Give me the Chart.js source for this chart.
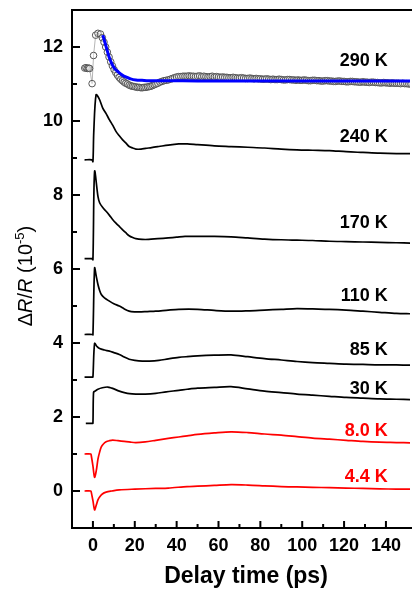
<!DOCTYPE html>
<html>
<head>
<meta charset="UTF-8">
<title>Delay time traces</title>
<script src="https://cdn.jsdelivr.net/npm/chart.js@4.4.1/dist/chart.umd.min.js"></script>
<style>
    body { margin: 0; background: #fff; }
    .box { width: 415px; height: 590px; position: relative; }
</style>
</head>
<body>
<div class="box"><canvas id="grafico"></canvas></div>
<script>
    // 290 K: measured points (open circles) and fit (blue)
    const t290 = [-3.9, -3.3, -2.7, -2.1, -1.6, -0.4, 0.3, 1.3, 2.4, 3.6,
        4.5, 5.3, 6.1, 6.9, 7.7, 8.5, 9.3, 10.1, 10.9, 11.7, 12.5, 13.3, 14.1, 14.9, 15.7, 16.5, 17.3, 18.1, 18.9, 19.7,
        20.5, 21.3, 22.1, 22.9, 23.7, 24.5, 25.3, 26.1, 26.9, 27.7, 28.5, 29.3, 30.1, 31, 32, 33, 34, 35, 36, 37,
        38, 39, 40, 41, 42, 43, 44, 45, 46, 47, 48, 49, 50, 51, 52, 53, 54, 55, 56, 57,
        58, 59, 60, 61, 62, 63, 64, 65, 66, 67, 68, 69, 70, 71, 72, 73, 74, 75, 76, 77,
        78, 79, 80, 81, 82, 83, 84, 85, 86, 87, 88, 89, 90, 91, 92, 93, 94, 95, 96, 97,
        98, 99, 100, 101, 102, 103, 104, 105, 106, 107, 108, 109, 110, 111, 112, 113, 114, 115, 116, 117,
        118, 119, 120, 121, 122, 123, 124, 125, 126, 127, 128, 129, 130, 131, 132, 133, 134, 135, 136, 137,
        138, 139, 140, 141, 142, 143, 144, 145, 146, 147, 148, 149, 150, 151, 152];
    const v290 = [11.43, 11.44, 11.42, 11.43, 11.42, 11.01, 11.77, 12.32, 12.37, 12.35,
        12.25, 12.13, 12.0, 11.86, 11.73, 11.6, 11.49, 11.39, 11.31, 11.24, 11.18, 11.13, 11.09, 11.05, 11.02, 11.0, 10.97, 10.95, 10.94, 10.93,
        10.92, 10.91, 10.91, 10.9, 10.9, 10.91, 10.91, 10.92, 10.93, 10.94, 10.96, 10.98, 11.0, 11.02, 11.05, 11.07, 11.09, 11.1, 11.11, 11.13,
        11.15, 11.17, 11.19, 11.2, 11.2, 11.21, 11.21, 11.21, 11.22, 11.21, 11.21, 11.2, 11.21, 11.22, 11.2, 11.21, 11.2, 11.19, 11.2, 11.21,
        11.19, 11.2, 11.19, 11.18, 11.19, 11.18, 11.18, 11.17, 11.17, 11.18, 11.17, 11.16, 11.16, 11.17, 11.16, 11.15, 11.15, 11.16, 11.15, 11.14,
        11.15, 11.14, 11.14, 11.13, 11.13, 11.14, 11.13, 11.12, 11.13, 11.12, 11.12, 11.13, 11.12, 11.11, 11.11, 11.12, 11.12, 11.11, 11.11, 11.1,
        11.11, 11.1, 11.1, 11.11, 11.1, 11.09, 11.09, 11.1, 11.1, 11.09, 11.09, 11.08, 11.08, 11.09, 11.09, 11.08, 11.08, 11.07, 11.07, 11.08,
        11.08, 11.07, 11.07, 11.06, 11.06, 11.07, 11.07, 11.06, 11.06, 11.05, 11.05, 11.06, 11.05, 11.05, 11.04, 11.05, 11.05, 11.04, 11.04, 11.03,
        11.03, 11.04, 11.03, 11.03, 11.02, 11.03, 11.02, 11.02, 11.02, 11.01, 11.02, 11.01, 11.01, 11.0, 11.0];
    const tFit = [4.7, 5.5, 6.3, 7.1, 7.9, 9, 10.2, 11.4, 12.6, 14, 15.7, 18, 20.5, 23.5, 26.7, 31, 36, 50, 80, 110, 152];
    const vFit = [12.32, 12.17, 12.01, 11.85, 11.7, 11.55, 11.43, 11.36, 11.3, 11.24, 11.19, 11.14, 11.11, 11.1, 11.09, 11.09, 11.09, 11.08, 11.08, 11.08, 11.08];

    const t240 = [-4, -0.5, 0, 0.4, 1.5, 3, 4.7, 6.3, 7.9, 9.5, 11, 12.6, 14.2, 15.8, 17.3, 19, 20.5, 23, 25.2, 28, 31.5, 36, 41, 45, 50, 58, 66, 74, 82, 90, 97.5, 105, 113, 121, 129, 137, 145, 152];
    const v240 = [8.95, 8.95, 8.9, 9.7, 10.71, 10.6, 10.35, 10.2, 10.03, 9.88, 9.72, 9.6, 9.49, 9.4, 9.31, 9.27, 9.24, 9.24, 9.26, 9.28, 9.31, 9.35, 9.38, 9.38, 9.36, 9.33, 9.31, 9.29, 9.27, 9.24, 9.22, 9.21, 9.2, 9.17, 9.15, 9.13, 9.12, 9.12];

    const t170 = [-4, -0.5, 0, 0.8, 2.4, 3.2, 4.7, 6.3, 7.9, 9.4, 11, 12.6, 14.2, 15.7, 17.3, 19, 20.5, 23.5, 26.7, 31, 36, 40, 44, 50, 58, 66, 74, 82, 90, 97.5, 105, 113, 121, 129, 137, 145, 152];
    const v170 = [6.28, 6.28, 6.25, 8.64, 7.96, 7.79, 7.66, 7.56, 7.45, 7.34, 7.24, 7.15, 7.06, 6.98, 6.9, 6.85, 6.82, 6.8, 6.8, 6.82, 6.84, 6.86, 6.88, 6.88, 6.88, 6.87, 6.84, 6.81, 6.79, 6.78, 6.77, 6.75, 6.74, 6.73, 6.72, 6.71, 6.7];

    const t110 = [-4, -0.3, 0, 0.8, 1.6, 2.4, 3.2, 4, 5.5, 7.9, 10, 12.6, 15, 17.3, 20, 22, 26, 30, 36, 41, 50, 58, 66, 74, 82, 90, 97.5, 105, 113, 121, 129, 137, 145, 152];
    const v110 = [4.23, 4.23, 4.22, 6.03, 5.8, 5.58, 5.42, 5.31, 5.22, 5.13, 5.06, 5.0, 4.92, 4.86, 4.84, 4.84, 4.85, 4.86, 4.89, 4.91, 4.91, 4.88, 4.86, 4.87, 4.89, 4.91, 4.93, 4.92, 4.91, 4.89, 4.86, 4.83, 4.8, 4.79];

    const t85 = [-4, -0.3, 0, 0.8, 2, 3.2, 5.5, 7.9, 10, 12.6, 15, 17.3, 20, 23.6, 27, 31.5, 36, 41, 45, 50, 58, 66, 74, 82, 90, 97.5, 105, 113, 121, 129, 137, 145, 152];
    const v85 = [3.08, 3.08, 3.08, 3.99, 3.9, 3.85, 3.81, 3.78, 3.74, 3.69, 3.62, 3.56, 3.53, 3.51, 3.51, 3.53, 3.57, 3.61, 3.63, 3.65, 3.67, 3.68, 3.63, 3.58, 3.54, 3.5, 3.47, 3.45, 3.43, 3.42, 3.41, 3.41, 3.4];

    const t30 = [-3.4, -0.3, 0, 0.3, 1, 2.4, 4.5, 7, 9, 12.6, 15, 17.5, 20.5, 25, 30, 35, 41, 45, 50, 58, 66, 74, 82, 90, 97.5, 105, 113, 121, 129, 137, 145, 152];
    const v30 = [1.83, 1.83, 1.83, 2.67, 2.7, 2.75, 2.79, 2.81, 2.78, 2.7, 2.66, 2.63, 2.62, 2.62, 2.64, 2.68, 2.72, 2.75, 2.78, 2.8, 2.82, 2.76, 2.7, 2.66, 2.62, 2.59, 2.56, 2.53, 2.51, 2.49, 2.48, 2.47];

    const t8 = [-4, -1, -0.8, 0, 0.8, 1.6, 2.4, 3.2, 4, 5, 6.3, 7.9, 9.4, 12, 15, 18, 20.5, 25, 30, 36, 41, 45, 50, 58, 66, 74, 82, 90, 97.5, 105, 113, 121, 129, 137, 145, 152];
    const v8 = [1.0, 1.0, 0.96, 0.68, 0.37, 0.55, 0.86, 1.05, 1.19, 1.27, 1.33, 1.36, 1.375, 1.36, 1.34, 1.32, 1.31, 1.33, 1.37, 1.42, 1.46, 1.49, 1.53, 1.57, 1.6, 1.58, 1.54, 1.51, 1.47, 1.43, 1.4, 1.37, 1.34, 1.32, 1.31, 1.3];

    const t44 = [-4, -1, -0.8, 0, 0.8, 1.6, 2.4, 3.2, 4.5, 6.3, 9, 12.6, 20, 30, 36, 45, 50, 58, 66, 74, 82, 90, 97.5, 105, 113, 121, 129, 137, 145, 152];
    const v44 = [0.0, 0.0, -0.03, -0.26, -0.51, -0.38, -0.24, -0.16, -0.08, -0.03, 0.0, 0.03, 0.05, 0.07, 0.08, 0.12, 0.13, 0.15, 0.17, 0.16, 0.14, 0.12, 0.11, 0.1, 0.09, 0.08, 0.07, 0.06, 0.05, 0.05];

    // rótulos das curvas
    const rotulos = ['290 K', '240 K', '170 K', '110 K', '85 K', '30 K', '8.0 K', '4.4 K'];
    const rotuloY = [11.65, 9.62, 7.29, 5.31, 3.85, 2.81, 1.66, 0.42];
    const rotuloCor = ['#000', '#000', '#000', '#000', '#000', '#000', '#ff0000', '#ff0000'];
    const rotuloX = 140.9;

    const xTicksLabel = [0, 20, 40, 60, 80, 100, 120, 140];
    const yTicksLabel = [0, 2, 4, 6, 8, 10, 12];

    const FONTE = "'Liberation Sans', Arial, sans-serif";

    function pts(t, v) {
        return t.map((x, i) => ({x: x, y: v[i]}));
    }

    function linha(t, v, cor) {
        return {data: pts(t, v), showLine: true, borderColor: cor, borderWidth: 1.7,
            pointRadius: 0, fill: false, tension: 0.3, order: 2};
    }

    // desenha moldura, ticks para dentro, titulos e rotulos
    const moldura = {
        id: 'moldura',
        afterDraw(chart) {
            const ctx = chart.ctx;
            const a = chart.chartArea;
            const xs = chart.scales.x, ys = chart.scales.y;
            ctx.save();
            ctx.strokeStyle = '#000';
            ctx.lineWidth = 2;
            ctx.beginPath();
            ctx.moveTo(a.right + 2, a.top); ctx.lineTo(a.left, a.top);
            ctx.lineTo(a.left, a.bottom); ctx.lineTo(a.right + 2, a.bottom);
            ctx.stroke();

            ctx.lineWidth = 2;
            ctx.beginPath();
            ys.ticks.forEach(tk => {
                const py = ys.getPixelForValue(tk.value);
                const len = yTicksLabel.includes(tk.value) ? 8 : 5;
                ctx.moveTo(a.left, py); ctx.lineTo(a.left + len, py);
            });
            xs.ticks.forEach(tk => {
                if (Math.abs(tk.value % 10) > 0.01) return;
                const px = xs.getPixelForValue(tk.value);
                const len = xTicksLabel.includes(tk.value) ? 7 : 4;
                ctx.moveTo(px, a.bottom); ctx.lineTo(px, a.bottom - len);
            });
            ctx.stroke();

            // titulo eixo x
            ctx.fillStyle = '#000';
            ctx.font = 'bold 23px ' + FONTE;
            ctx.textAlign = 'center';
            ctx.textBaseline = 'alphabetic';
            ctx.fillText('Delay time (ps)', 246, 583);

            // titulo eixo y com R em italico e expoente
            const partes = [
                {s: 'Δ', f: '20px ' + FONTE, dy: 0},
                {s: 'R', f: 'italic 20px ' + FONTE, dy: 0},
                {s: '/', f: '20px ' + FONTE, dy: 0},
                {s: 'R', f: 'italic 20px ' + FONTE, dy: 0},
                {s: ' (10', f: '20px ' + FONTE, dy: 0},
                {s: '-5', f: '13px ' + FONTE, dy: -8},
                {s: ')', f: '20px ' + FONTE, dy: 0}
            ];
            let total = 0;
            partes.forEach(p => { ctx.font = p.f; p.w = ctx.measureText(p.s).width; total += p.w; });
            ctx.translate(32, 276);
            ctx.rotate(-Math.PI / 2);
            ctx.textAlign = 'left';
            let cx = -total / 2;
            partes.forEach(p => { ctx.font = p.f; ctx.fillText(p.s, cx, p.dy); cx += p.w; });
            ctx.restore();

            // rotulos de temperatura
            ctx.save();
            ctx.font = 'bold 18px ' + FONTE;
            ctx.textAlign = 'right';
            ctx.textBaseline = 'alphabetic';
            rotulos.forEach((r, i) => {
                ctx.fillStyle = rotuloCor[i];
                ctx.fillText(r, xs.getPixelForValue(rotuloX), ys.getPixelForValue(rotuloY[i]) + 6.5);
            });
            ctx.restore();
        }
    };

    new Chart(document.getElementById('grafico'), {
        type: 'scatter',
        data: {
            datasets: [
                {data: pts(tFit, vFit), showLine: true, borderColor: '#0000ff', borderWidth: 3,
                    pointRadius: 0, tension: 0.3, order: 0},
                {data: pts(t290, v290), showLine: true, borderColor: '#b5b5b5', borderWidth: 1,
                    pointRadius: 3.3, pointBorderColor: '#555', pointBorderWidth: 1,
                    pointBackgroundColor: 'rgba(255,255,255,0.3)', order: 1},
                linha(t240, v240, '#000'),
                linha(t170, v170, '#000'),
                linha(t110, v110, '#000'),
                linha(t85, v85, '#000'),
                linha(t30, v30, '#000'),
                linha(t8, v8, '#ff0000'),
                linha(t44, v44, '#ff0000')
            ]
        },
        options: {
            responsive: true,
            maintainAspectRatio: false,
            animation: false,
            layout: {padding: {top: 10, right: 0, left: 0, bottom: 0}},
            plugins: {legend: {display: false}, tooltip: {enabled: false}},
            scales: {
                x: {
                    type: 'linear', min: -10, max: 151.5,
                    grid: {display: false, drawTicks: false},
                    border: {display: false},
                    afterFit(s) { s.height = 62; s.paddingLeft = 0; s.paddingRight = 0; },
                    ticks: {
                        stepSize: 10, autoSkip: false, maxRotation: 0, padding: 7, color: '#000',
                        font: {family: FONTE, size: 18, weight: 'bold'},
                        callback: v => xTicksLabel.includes(v) ? String(v) : ''
                    }
                },
                y: {
                    type: 'linear', min: -1, max: 13,
                    grid: {display: false, drawTicks: false},
                    border: {display: false},
                    afterFit(s) { s.width = 72; s.paddingTop = 0; s.paddingBottom = 0; },
                    ticks: {
                        stepSize: 1, autoSkip: false, padding: 9, color: '#000',
                        font: {family: FONTE, size: 18, weight: 'bold'},
                        callback: v => yTicksLabel.includes(v) ? String(v) : ''
                    }
                }
            }
        },
        plugins: [moldura]
    });
</script>
</body>
</html>
